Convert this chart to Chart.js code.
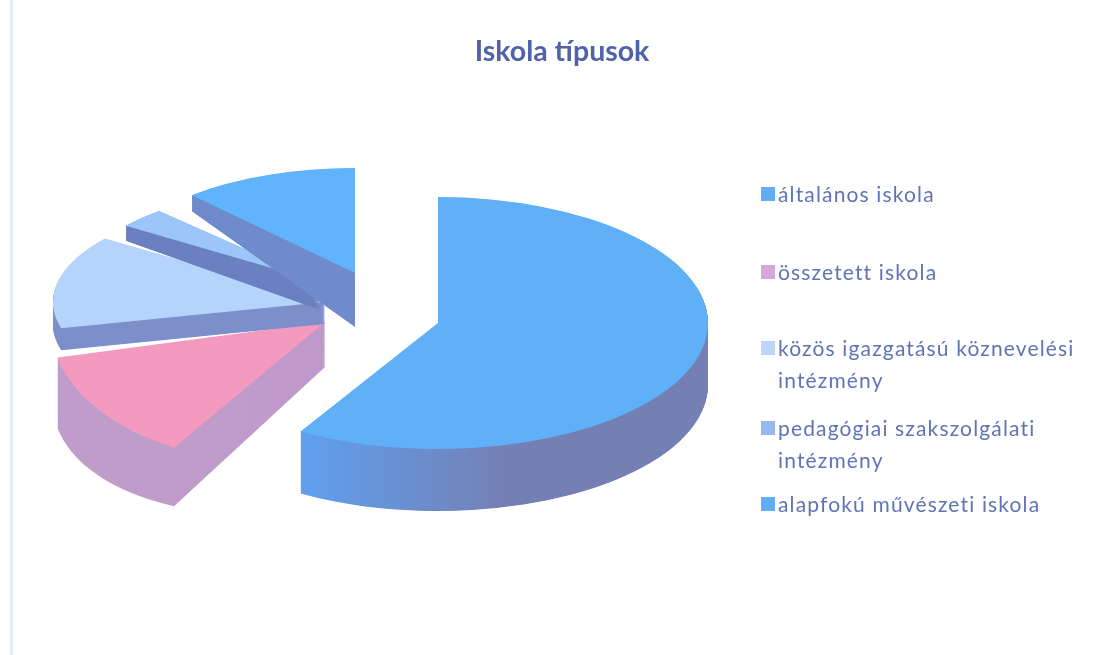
<!DOCTYPE html>
<html lang="hu"><head><meta charset="utf-8">
<script src="https://cdn.jsdelivr.net/npm/chart.js@4"></script>
<style>
html,body{margin:0;padding:0;background:#fff;width:1097px;height:655px;overflow:hidden}
#wrap{position:relative;width:1097px;height:655px;filter:blur(.6px)}
canvas{position:absolute;left:0;top:0}
#scan{position:absolute;left:10px;top:0;width:3px;height:655px;background:#e6edf8}
.lg{position:absolute;left:760px;font:21px/32px Lato,sans-serif;letter-spacing:1.15px;color:#5f74b4;width:335px}
.lg i{position:absolute;left:1px;top:9px;width:14px;height:14px}
.lg span{display:block;margin-left:18px}
</style></head><body>
<div id="wrap"><div id="scan"></div><canvas id="c" width="1097" height="655"></canvas><div id="legend"></div></div>
<script>
const titleText = 'Iskola típusok';
const categories = ['általános iskola','összetett iskola','közös igazgatású köznevelési intézmény','pedagógiai szakszolgálati intézmény','alapfokú művészeti iskola'];
const shares = [58.5, 12.6, 13.9, 3.3, 11.7];
const topColors = ['#5fb0f7','#f49abf','#b4d4fb','#9cc6fa','#60b4fb'];
const swatchColors = ['#62aef5','#d3a8d8','#bcd6fa','#98b8f2','#62aef5'];
const wallColorsA = ['#5f9fee','#c09ccb','#7c8fcb','#6a80c0','#6f8bcb'];
const wallColorsB = ['#7480b4','#bd97c8','#7c8fcb','#6a80c0','#6f8bcb'];
const legendTops = [178, 256, 332, 412, 488];
// 3D projection of each wedge, relative to the pie centre computed by Chart.js
const shiftX = [-124, -237, -237, -242, -207];
const shiftY = [3, 2, -18, -38, -47];
const radiusX = [270, 272, 272, 240, 243];
const radiusY = [126, 146, 108, 96, 105];
const skewX = [0, -0.1, 0, 0, 0];
const depthApex = [62, 45, 22, 28, 54];
const depthSlope = [0, -0.097, 0, 0.066, 0.233];
const paintOrder = [0, 1, 2, 3, 4];

const pie3d = {
  id: 'pie3d',
  beforeDatasetsDraw(chart) {
    const ctx = chart.ctx, arcs = chart.getDatasetMeta(0).data;
    paintOrder.forEach(i => {
      const el = arcs[i], R = el.outerRadius, base = el.options;
      const sx = radiusX[i] / R, sy = radiusY[i] / R;
      const place = t => {
        ctx.setTransform(sx, t * depthSlope[i] * sx, skewX[i] * sy, sy, el.x + shiftX[i], el.y + shiftY[i] + t * depthApex[i]);
        ctx.translate(-el.x, -el.y);
      };
      const g = ctx.createLinearGradient(el.x - R * .5, 0, el.x + R * .25, 0);
      g.addColorStop(0, wallColorsA[i]);
      g.addColorStop(1, wallColorsB[i]);
      el.options = Object.assign({}, base, {backgroundColor: g});
      const n = Math.ceil(depthApex[i] * 2);
      for (let k = n; k > 0; k--) {
        ctx.save(); place(k / n); el.draw(ctx); ctx.restore();
      }
      el.options = Object.assign({}, base, {backgroundColor: topColors[i]});
      ctx.save(); place(0); el.draw(ctx); ctx.restore();
      el.options = base;
    });
    ctx.setTransform(1, 0, 0, 1, 0, 0);
    return false;
  }
};

new Chart(document.getElementById('c'), {
  type: 'pie',
  data: {labels: categories, datasets: [{data: shares, backgroundColor: topColors, borderWidth: 0}]},
  options: {
    responsive: false, animation: false,
    layout: {padding: {left: 27, right: 0, top: 0, bottom: 92}},
    plugins: {
      legend: {display: false}, tooltip: {enabled: false},
      title: {display: true, text: titleText, color: '#4f62ab',
        font: {family: 'Lato', size: 28.5, weight: 'bold'}, padding: {top: 35, bottom: 8}}
    }
  },
  plugins: [pie3d]
});

const host = document.getElementById('legend');
categories.forEach((name, i) => {
  const d = document.createElement('div');
  d.className = 'lg'; d.style.top = legendTops[i] + 'px';
  const sw = document.createElement('i'); sw.style.background = swatchColors[i];
  const tx = document.createElement('span'); tx.textContent = name;
  d.append(sw, tx); host.append(d);
});
</script></body></html>
